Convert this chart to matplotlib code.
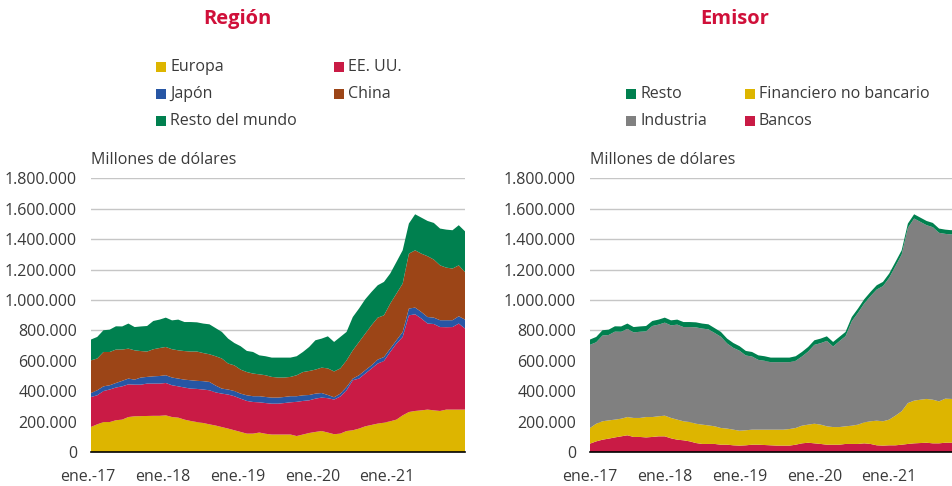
import matplotlib
matplotlib.use("Agg")
import matplotlib.pyplot as plt
from matplotlib.patches import Rectangle
import matplotlib.transforms as mtransforms
import numpy as np

plt.rcParams['font.family'] = ['Open Sans', 'DejaVu Sans']

# ---------------- data (values shown in "millones de dólares", stored /1000) -------------
months = np.arange(61)  # ene.-17 ... ene.-22
tick_pos = [0, 12, 24, 36, 48]
tick_labels = ['ene.-17', 'ene.-18', 'ene.-19', 'ene.-20', 'ene.-21']
y_ticks = [0, 200, 400, 600, 800, 1000, 1200, 1400, 1600, 1800]
y_tick_labels = ['0', '200.000', '400.000', '600.000', '800.000', '1.000.000',
                 '1.200.000', '1.400.000', '1.600.000', '1.800.000']

# Región
europa = [165, 182, 197, 197, 209, 213, 230, 235, 236, 237, 238, 238, 241, 230, 226, 213, 204, 197, 191, 182,
          174, 164, 154, 143, 132, 121, 121, 128, 120, 115, 115, 115, 115, 105, 115, 125, 132, 138, 128, 117,
          121, 138, 143, 154, 169, 178, 187, 193, 202, 213, 241, 263, 270, 274, 279, 274, 270, 279, 279, 279, 279]
eeuu = [197, 191, 204, 214, 215, 219, 215, 208, 207, 213, 212, 212, 213, 209, 206, 211, 213, 218, 220, 224,
        218, 220, 224, 224, 219, 215, 208, 199, 202, 203, 203, 207, 212, 225, 221, 215, 219, 220, 226, 228,
        244, 268, 329, 329, 347, 371, 395, 406, 456, 500, 516, 636, 636, 604, 566, 568, 552, 542, 543, 566, 533]
japon = [26, 33, 31, 28, 30, 36, 38, 33, 47, 44, 48, 50, 51, 51, 51, 52, 55, 53, 55, 55,
         45, 33, 33, 34, 33, 37, 38, 40, 40, 40, 40, 40, 40, 37, 37, 35, 33, 30, 21, 15,
         19, 22, 11, 22, 22, 21, 26, 26, 22, 22, 33, 45, 44, 43, 43, 42, 45, 46, 45, 48, 59]
china = [215, 209, 226, 219, 220, 206, 197, 193, 174, 167, 178, 184, 186, 186, 186, 188, 189, 193, 185, 182,
         193, 198, 171, 169, 158, 153, 149, 144, 143, 136, 132, 128, 127, 138, 153, 158, 158, 167, 175, 170,
         166, 175, 186, 219, 241, 264, 276, 274, 296, 307, 318, 361, 377, 384, 400, 382, 361, 346, 340, 335, 313]
resto_mundo = [137, 142, 143, 147, 153, 152, 165, 153, 162, 168, 186, 187, 193, 190, 202, 191, 194, 192, 194, 197,
               185, 175, 164, 147, 154, 139, 142, 125, 125, 127, 131, 131, 127, 125, 132, 158, 193, 191, 211, 194,
               207, 187, 219, 220, 226, 219, 213, 220, 198, 208, 219, 198, 237, 237, 232, 241, 242, 250, 252, 264, 268]

# Emisor
bancos = [55, 70, 81, 88, 96, 103, 110, 99, 99, 96, 99, 103, 103, 90, 81, 77, 70, 59, 53, 53,
          53, 48, 48, 44, 42, 44, 48, 48, 46, 44, 42, 42, 42, 48, 57, 61, 57, 53, 48, 48,
          48, 53, 53, 53, 57, 53, 44, 42, 44, 44, 48, 53, 57, 59, 61, 57, 57, 61, 61, 61, 61]
financiero = [103, 116, 121, 120, 117, 116, 120, 125, 125, 134, 131, 132, 136, 134, 132, 125, 127, 127, 127, 122,
              116, 110, 106, 103, 98, 99, 99, 99, 101, 103, 105, 105, 109, 110, 116, 119, 129, 127, 121, 116,
              116, 116, 120, 127, 138, 149, 162, 160, 169, 195, 220, 269, 281, 285, 288, 287, 276, 290, 288, 288, 288]
industria = [547, 536, 564, 562, 579, 572, 580, 563, 567, 564, 599, 603, 612, 609, 625, 620, 625, 634, 632, 632,
             614, 600, 560, 538, 526, 492, 481, 459, 453, 444, 444, 444, 440, 442, 455, 481, 519, 536, 562, 530,
             565, 593, 687, 736, 782, 823, 863, 889, 933, 983, 1031, 1153, 1198, 1170, 1143, 1135, 1109, 1084, 1082, 1115, 1075]
resto_emisor = [35, 35, 35, 35, 35, 35, 35, 35, 35, 35, 33, 33, 33, 33, 33, 33, 33, 33, 33, 33,
                32, 32, 32, 32, 30, 30, 30, 30, 30, 30, 30, 30, 30, 30, 30, 30, 30, 30, 30, 30,
                28, 28, 28, 28, 28, 28, 28, 28, 28, 28, 28, 28, 28, 28, 28, 28, 28, 28, 28, 28, 28]

region_names = ['Europa', 'EE. UU.', 'Japón', 'China', 'Resto del mundo']
emisor_names = ['Bancos', 'Financiero no bancario', 'Industria', 'Resto']

# ---------------- styles ----------------
C_YEL = '#DDB500'
C_RED = '#C91B45'
C_BLU = '#2756A4'
C_BRN = '#9C4517'
C_GRN = '#00804F'
C_GRY = '#808080'
C_TITLE = '#D0103A'
TXT = '#3A3A3A'
FS = 11.5

W, H = 952, 486
fig = plt.figure(figsize=(W / 100, H / 100), dpi=100)


def px_axes(x0, x1, ytop, ybot):
    return fig.add_axes([x0 / W, 1 - ybot / H, (x1 - x0) / W, (ybot - ytop) / H])


def style(ax, xshift):
    ax.set_xlim(0, 60)
    ax.set_ylim(0, 1800)
    ax.set_yticks(y_ticks)
    ax.set_yticklabels(y_tick_labels, fontsize=FS, color=TXT)
    ax.set_xticks(tick_pos)
    ax.set_xticklabels(tick_labels, fontsize=FS, color=TXT)
    ax.tick_params(length=0)
    ax.tick_params(axis='x', pad=12)
    ax.tick_params(axis='y', pad=10)
    off = mtransforms.ScaledTranslation(xshift / 100, 0, fig.dpi_scale_trans)
    for lab in ax.get_xticklabels():
        lab.set_transform(lab.get_transform() + off)
    for s in ['left', 'right', 'top']:
        ax.spines[s].set_visible(False)
    ax.spines['bottom'].set_color('black')
    ax.spines['bottom'].set_linewidth(1.2)
    ax.spines['bottom'].set_zorder(5)
    ax.grid(axis='y', color='#C6C6C6', linewidth=1.0)
    ax.set_axisbelow(True)


ax1 = px_axes(91, 465, 178.4, 452)
ax1.stackplot(months, europa, eeuu, japon, china, resto_mundo,
              colors=[C_YEL, C_RED, C_BLU, C_BRN, C_GRN], linewidth=0)
style(ax1, -3)

ax2 = px_axes(590, 964, 178.4, 452)
ax2.stackplot(months, bancos, financiero, industria, resto_emisor,
              colors=[C_RED, C_YEL, C_GRY, C_GRN], linewidth=0)
style(ax2, 0)

# titles
fig.text(237 / W, 1 - 19 / H, 'Región', ha='center', va='center', fontsize=14.5,
         fontweight='bold', color=C_TITLE)
fig.text(735 / W, 1 - 19 / H, 'Emisor', ha='center', va='center', fontsize=14.5,
         fontweight='bold', color=C_TITLE)

# unit labels
fig.text(91 / W, 1 - 160 / H, 'Millones de dólares', ha='left', va='center', fontsize=FS, color=TXT)
fig.text(590 / W, 1 - 160 / H, 'Millones de dólares', ha='left', va='center', fontsize=FS, color=TXT)


def legend_item(xp, yp, color, label):
    s = 10
    fig.patches.append(Rectangle((xp / W, 1 - (yp + s / 2) / H), s / W, s / H,
                                 transform=fig.transFigure, facecolor=color, edgecolor='none'))
    fig.text((xp + 14) / W, 1 - yp / H, label, ha='left', va='center', fontsize=FS, color=TXT)


legend_item(156, 67, C_YEL, region_names[0])
legend_item(334, 67, C_RED, region_names[1])
legend_item(156, 94, C_BLU, region_names[2])
legend_item(334, 94, C_BRN, region_names[3])
legend_item(156, 121, C_GRN, region_names[4])

legend_item(626, 94, C_GRN, emisor_names[3])
legend_item(745, 94, C_YEL, emisor_names[1])
legend_item(626, 121, C_GRY, emisor_names[2])
legend_item(745, 121, C_RED, emisor_names[0])

fig.savefig('out.png', dpi=100)
